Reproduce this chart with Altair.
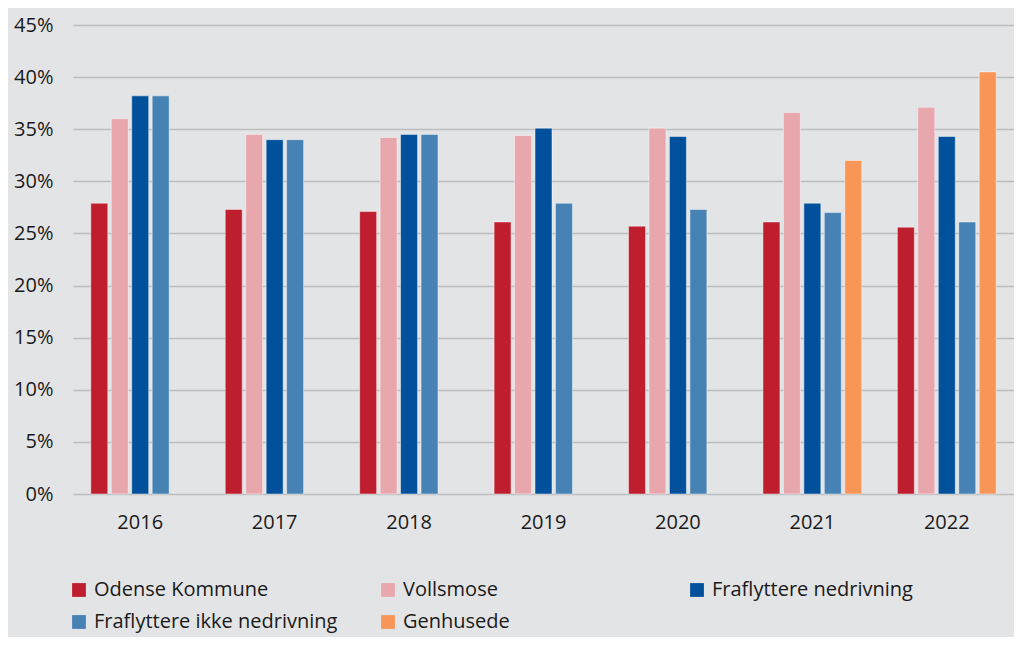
import altair as alt
import pandas as pd

years = ["2016", "2017", "2018", "2019", "2020", "2021", "2022"]
series = ["Odense Kommune", "Vollsmose", "Fraflyttere nedrivning",
          "Fraflyttere ikke nedrivning", "Genhusede"]
colors = ["#be1e2d", "#e8a6ad", "#00509c", "#4682b4", "#f79657"]

odense = [0.279, 0.273, 0.271, 0.261, 0.257, 0.261, 0.256]
vollsmose = [0.360, 0.345, 0.342, 0.344, 0.351, 0.366, 0.371]
fraf_ned = [0.382, 0.340, 0.345, 0.351, 0.343, 0.279, 0.343]
fraf_ikke = [0.382, 0.340, 0.345, 0.279, 0.273, 0.270, 0.261]
genhusede = [None, None, None, None, None, 0.320, 0.405]

rows = []
for vals, s in zip([odense, vollsmose, fraf_ned, fraf_ikke, genhusede], series):
    for y, v in zip(years, vals):
        if v is not None:
            rows.append({"year": y, "series": s, "value": v})
df = pd.DataFrame(rows)

FONT = "Open Sans"

chart = alt.Chart(df).mark_bar(
    stroke="#ffffff", strokeOpacity=0.45, strokeWidth=1
).encode(
    x=alt.X("year:N", sort=years, title=None,
            scale=alt.Scale(paddingInner=0, paddingOuter=0),
            axis=alt.Axis(labelAngle=0, ticks=False, domain=False,
                          labelFontSize=20, labelColor="#1a1a1a",
                          labelPadding=18, labelFont=FONT)),
    xOffset=alt.XOffset("series:N", sort=series,
                        scale=alt.Scale(domain=series, paddingInner=0.17, paddingOuter=0.87)),
    y=alt.Y("value:Q", title=None,
            scale=alt.Scale(domain=[0, 0.45], nice=False),
            axis=alt.Axis(format=".0%", values=[i * 0.05 for i in range(10)],
                          ticks=False, domain=False, gridColor="#bcbdbf",
                          gridWidth=1.5, labelFontSize=20, labelColor="#1a1a1a",
                          labelPadding=20, labelFont=FONT)),
    color=alt.Color("series:N", sort=series,
                    scale=alt.Scale(domain=series, range=colors),
                    legend=alt.Legend(title=None, orient="none", legendX=-4, legendY=555,
                                      direction="horizontal", columns=3,
                                      symbolType="square", symbolSize=190,
                                      symbolStrokeWidth=0, labelFontSize=20,
                                      labelFont=FONT, labelColor="#1a1a1a",
                                      gridAlign="all", columnPadding=40,
                                      rowPadding=12, labelLimit=400,
                                      symbolOffset=0, labelOffset=5)),
).properties(
    width=941, height=469, background="#e3e4e6",
    padding={"left": 65, "top": 17, "right": 0, "bottom": 143},
    autosize=alt.AutoSizeParams(type="none"),
).configure_view(stroke=None)

chart.save("out.html", embed_options={"renderer": "svg", "actions": False})
